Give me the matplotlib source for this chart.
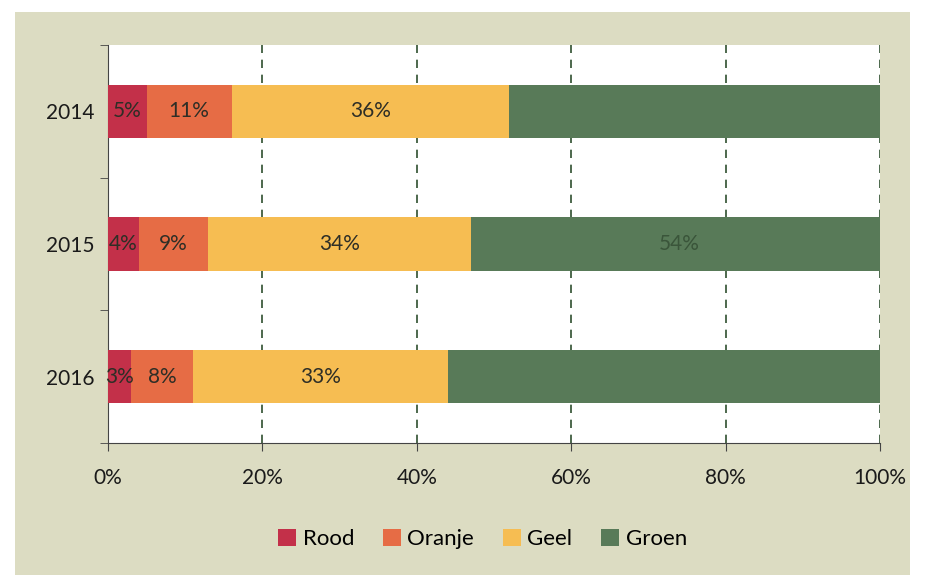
import matplotlib.pyplot as plt
from matplotlib.patches import Rectangle
import numpy as np

plt.rcParams['font.family'] = ['Lato', 'DejaVu Sans']

years = ["2014", "2015", "2016"]
rood = [5, 4, 3]
oranje = [11, 9, 8]
geel = [36, 34, 33]
groen = [48, 54, 56]
series_names = ["Rood", "Oranje", "Geel", "Groen"]
colors = ["#c33049", "#e66c45", "#f6bd52", "#587a58"]
# which labels were readable in the reference
show_label = [[True, True, True], [True, True, True], [True, True, True], [False, True, False]]

fig = plt.figure(figsize=(9.28, 5.87), dpi=100)
fig.patch.set_facecolor("white")
fig.patches.append(Rectangle((15 / 928, 12 / 587), 895 / 928, 563 / 587,
                             transform=fig.transFigure, facecolor="#dcdcc2",
                             edgecolor="none", zorder=-10))

ax = fig.add_axes([108 / 928, 1 - 443 / 587, 772 / 928, 398 / 587])
ax.set_facecolor("white")

y = np.arange(len(years))[::-1]
left = np.zeros(len(years))
for i, vals in enumerate([rood, oranje, geel, groen]):
    vals = np.array(vals)
    ax.barh(y, vals, left=left, height=0.4, color=colors[i], label=series_names[i], zorder=3)
    for j in range(len(years)):
        if show_label[i][j]:
            ax.text(left[j] + vals[j] / 2, y[j], f"{vals[j]}%", ha="center", va="center",
                    fontsize=15, color="#2e2e26" if i < 3 else "#3a553a", zorder=4)
    left = left + vals

ax.set_xlim(0, 100)
ax.set_ylim(-0.5, 2.5)
ax.set_xticks([0, 20, 40, 60, 80, 100])
ax.set_xticklabels([f"{t}%" for t in [0, 20, 40, 60, 80, 100]], fontsize=15, color="#1a1a1a")
ax.set_yticks(y)
ax.set_yticklabels(years, fontsize=15, color="#1a1a1a")
ax.set_yticks([-0.5, 0.5, 1.5, 2.5], minor=True)
ax.tick_params(axis="y", which="major", length=0, pad=10)
ax.tick_params(axis="y", which="minor", length=6, color="#444444")
ax.tick_params(axis="x", length=6, color="#444444", pad=12)
ax.grid(axis="x", linestyle=(0, (5, 4)), color="#2f4f2f", linewidth=1.2, zorder=1)
for s in ["top", "right"]:
    ax.spines[s].set_visible(False)
ax.spines["left"].set_color("#444444")
ax.spines["bottom"].set_color("#444444")

fig.legend(loc="lower center", bbox_to_anchor=(0.52, 0.03), ncol=4, frameon=False,
           fontsize=16, handlelength=0.8, handleheight=0.8, handletextpad=0.3, columnspacing=1.3)

fig.savefig("out.png", dpi=100, facecolor=fig.get_facecolor())
